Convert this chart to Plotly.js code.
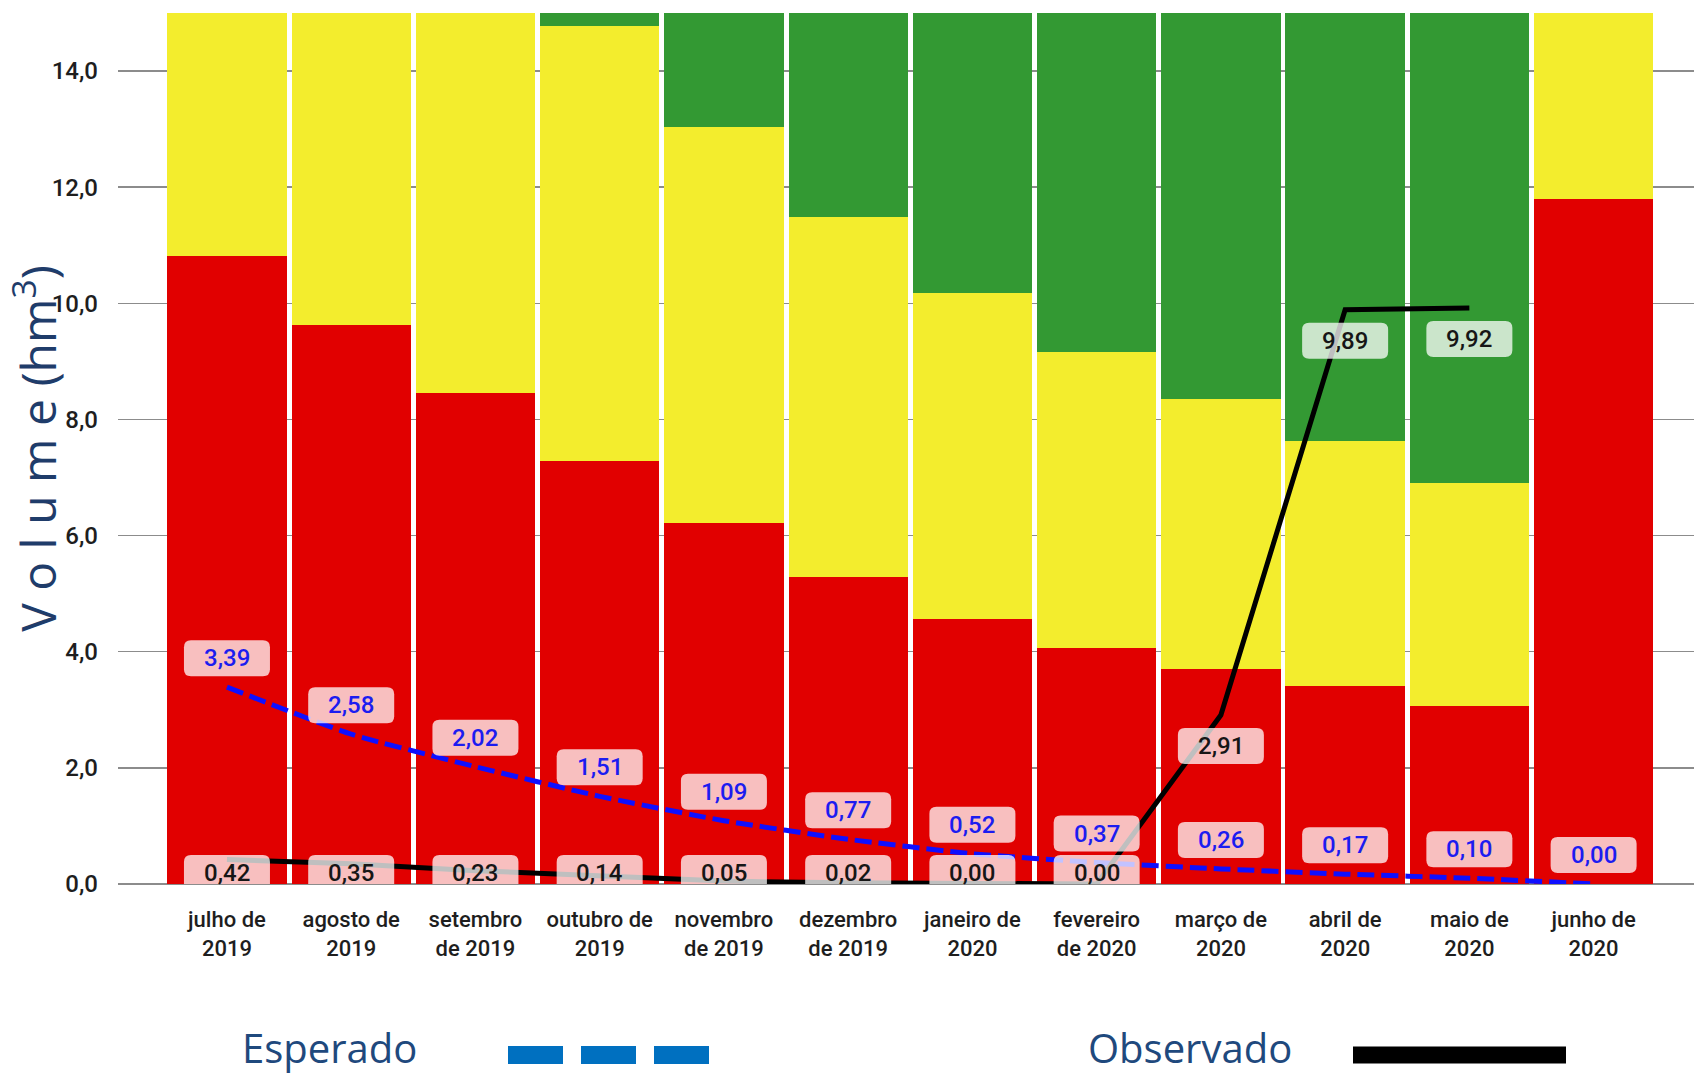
<!DOCTYPE html>
<html>
<head>
<meta charset="utf-8">
<script src="https://cdn.plot.ly/plotly-3.0.1.min.js"></script>
<style>html,body{margin:0;padding:0;background:#fff;}#chart{width:1694px;height:1075px;}</style>
</head>
<body>
<div id="chart"></div>
<script>
// ---- data ----
const months = ["julho de<br>2019", "agosto de<br>2019", "setembro<br>de 2019", "outubro de<br>2019",
  "novembro<br>de 2019", "dezembro<br>de 2019", "janeiro de<br>2020", "fevereiro<br>de 2020",
  "março de<br>2020", "abril de<br>2020", "maio de<br>2020", "junho de<br>2020"];
const redZone    = [10.82, 9.63, 8.45, 7.28, 6.22, 5.29, 4.56, 4.06, 3.71, 3.41, 3.07, 11.79];
const yellowZone = [4.18, 5.37, 6.55, 7.50, 6.81, 6.20, 5.61, 5.10, 4.65, 4.22, 3.84, 3.21];
const greenZone  = [0.00, 0.00, 0.00, 0.22, 1.97, 3.51, 4.83, 5.84, 6.64, 7.37, 8.09, 0.00];
const esperado   = [3.39, 2.58, 2.02, 1.51, 1.09, 0.77, 0.52, 0.37, 0.26, 0.17, 0.10, 0.00];
const observado  = [0.42, 0.35, 0.23, 0.14, 0.05, 0.02, 0.00, 0.00, 2.91, 9.89, 9.92, null];
const yTicks     = [0, 2, 4, 6, 8, 10, 12, 14];
const legendNames = ["Esperado", "Observado"];

// ---- styling ----
const W = 1694, H = 1075;
const M = {l: 118, r: 0, t: 13, b: 191};
const Y_MAX = 15;
const ppu = (H - M.t - M.b) / Y_MAX;
const FONT = "Roboto, 'DejaVu Sans', sans-serif";
const idx = months.map((_, i) => i);
const fmt = v => v.toFixed(2).replace('.', ',');

const traces = [
  {type: 'bar', x: idx, y: redZone, marker: {color: '#e10000', line: {width: 0}}, hoverinfo: 'skip', showlegend: false},
  {type: 'bar', x: idx, y: yellowZone, marker: {color: '#f3ed2d', line: {width: 0}}, hoverinfo: 'skip', showlegend: false},
  {type: 'bar', x: idx, y: greenZone, marker: {color: '#339933', line: {width: 0}}, hoverinfo: 'skip', showlegend: false},
  {type: 'scatter', mode: 'lines', name: legendNames[0], x: idx, y: esperado, cliponaxis: false,
   line: {color: '#0f0fff', width: 5, dash: '17px,7px', shape: 'spline', smoothing: 0.5}, hoverinfo: 'skip', showlegend: false},
  {type: 'scatter', mode: 'lines', name: legendNames[1], x: idx, y: observado, cliponaxis: false,
   line: {color: '#000000', width: 5}, hoverinfo: 'skip', showlegend: false}
];

const annotations = [];
const shapes = [];
const BW = 86, BH = 36, BR = 7;
function roundRect(cy) {
  const x0 = -BW / 2, x1 = BW / 2, y0 = cy - BH / 2, y1 = cy + BH / 2, r = BR;
  return `M ${x0 + r},${y0} L ${x1 - r},${y0} Q ${x1},${y0} ${x1},${y0 + r} L ${x1},${y1 - r} Q ${x1},${y1} ${x1 - r},${y1} L ${x0 + r},${y1} Q ${x0},${y1} ${x0},${y1 - r} L ${x0},${y0 + r} Q ${x0},${y0} ${x0 + r},${y0} Z`;
}
function addLabel(i, v, shift, color) {
  shapes.push({type: 'path', layer: 'above', xref: 'x', yref: 'y', xsizemode: 'pixel', ysizemode: 'pixel',
    xanchor: i, yanchor: v, path: roundRect(shift), fillcolor: 'rgba(255,255,255,0.75)', line: {width: 0}});
  annotations.push({x: i, y: v, xref: 'x', yref: 'y', text: fmt(v), showarrow: false, yshift: shift,
    xanchor: 'center', yanchor: 'middle', font: {family: FONT, size: 24, weight: 500, color: color}});
}
esperado.forEach((v, i) => addLabel(i, v, 29, '#1c1cf0'));
observado.forEach((v, i) => {
  if (v === null) return;
  const center = Math.max(v * ppu - 31, 11);
  addLabel(i, v, center - v * ppu, '#161616');
});

// legend (custom, bottom)
const plotBottom = H - M.b;
const legendTextY = -(1047 - plotBottom);
const legendMarkY = -(1055 - plotBottom);
annotations.push({xref: 'paper', yref: 'paper', x: (240 - M.l) / (W - M.l - M.r), y: 0, yshift: legendTextY,
  xanchor: 'left', yanchor: 'middle', text: legendNames[0], showarrow: false,
  font: {family: "'Open Sans', sans-serif", size: 40, color: '#1f497d'}});
annotations.push({xref: 'paper', yref: 'paper', x: (1086 - M.l) / (W - M.l - M.r), y: 0, yshift: legendTextY,
  xanchor: 'left', yanchor: 'middle', text: legendNames[1], showarrow: false,
  font: {family: "'Open Sans', sans-serif", size: 40, color: '#1f497d'}});
shapes.push({type: 'line', xref: 'paper', yref: 'paper', xsizemode: 'pixel', ysizemode: 'pixel', xanchor: 0, yanchor: 0,
  x0: 508 - M.l, x1: 711 - M.l, y0: legendMarkY, y1: legendMarkY, line: {color: '#0070c0', width: 18, dash: '55px,18px'}});
shapes.push({type: 'line', xref: 'paper', yref: 'paper', xsizemode: 'pixel', ysizemode: 'pixel', xanchor: 0, yanchor: 0,
  x0: 1353 - M.l, x1: 1566 - M.l, y0: legendMarkY, y1: legendMarkY, line: {color: '#000000', width: 17}});

const layout = {
  width: W, height: H, margin: M,
  paper_bgcolor: '#ffffff', plot_bgcolor: '#ffffff',
  barmode: 'stack', bargap: 0.04,
  separators: ',.',
  showlegend: false,
  xaxis: {
    range: [-0.877, 11.808], tickvals: idx, ticktext: months, ticks: '', showgrid: false, zeroline: false,
    showline: false, ticklabelstandoff: 20,
    tickfont: {family: FONT, size: 22, weight: 500, color: '#1e1e1e'}
  },
  yaxis: {
    range: [0, Y_MAX], tickvals: yTicks, tickformat: '.1f', ticks: '', showgrid: true, gridcolor: '#8c8c8c', gridwidth: 1.5,
    zeroline: true, zerolinecolor: '#8c8c8c', zerolinewidth: 1.5, showline: false, ticklabelstandoff: 19,
    tickfont: {family: FONT, size: 24, weight: 500, color: '#1e1e1e'},
    title: {text: 'V o l u m e (hm<sup>3</sup>)', standoff: 20, font: {family: "'Open Sans', sans-serif", size: 48, color: '#1f3c6a'}}
  },
  annotations: annotations,
  shapes: shapes
};

Plotly.newPlot('chart', traces, layout, {displayModeBar: false, staticPlot: true});
</script>
</body>
</html>
